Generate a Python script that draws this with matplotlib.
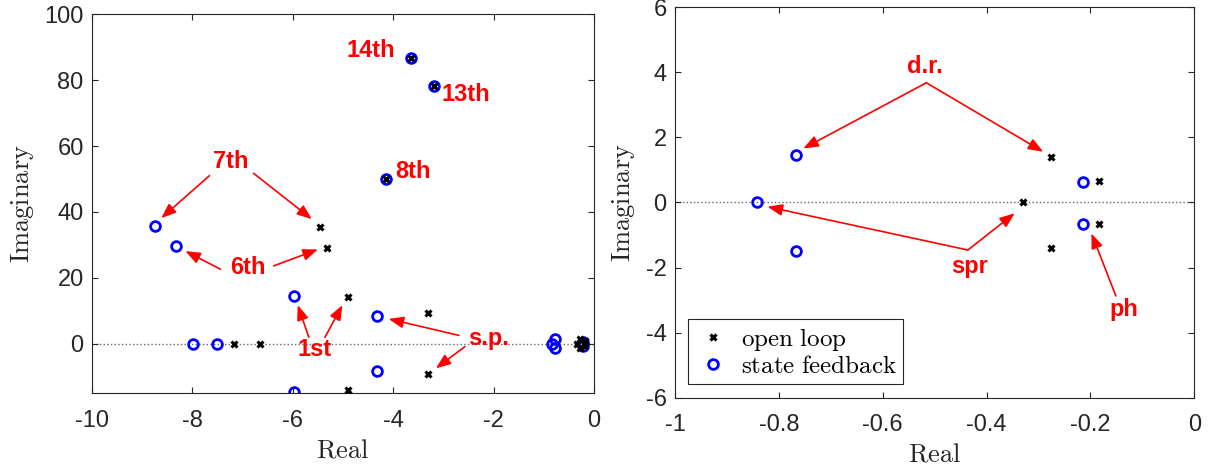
import matplotlib.pyplot as plt
import numpy as np

plt.rcParams["mathtext.fontset"] = "cm"
plt.rcParams["axes.unicode_minus"] = False

# eigenvalues
ol_real = [-3.65, -3.65, -3.19, -3.19, -4.15, -4.15, -5.45, -5.45, -5.32, -5.32,
           -4.90, -4.90, -3.30, -3.30, -7.17, -6.66,
           -0.275, -0.275, -0.33, -0.183, -0.183]
ol_imag = [86.6, -86.6, 78.2, -78.2, 49.9, -49.9, 35.4, -35.4, 29.0, -29.0,
           14.2, -14.2, 9.2, -9.3, 0.0, 0.0,
           1.40, -1.40, 0.0, 0.65, -0.66]
sf_real = [-3.65, -3.65, -3.19, -3.19, -4.15, -4.15, -8.74, -8.74, -8.32, -8.32,
           -5.97, -5.97, -4.32, -4.32, -7.99, -7.51,
           -0.767, -0.767, -0.843, -0.214, -0.214]
sf_imag = [86.6, -86.6, 78.2, -78.2, 49.9, -49.9, 35.8, -35.8, 29.7, -29.7,
           14.6, -14.6, 8.3, -8.3, 0.0, 0.0,
           1.47, -1.48, 0.0, 0.64, -0.65]

# mode labels: (text, x, y, [(tail_x, tail_y, head_x, head_y), ...])
left_labels = [
    ("14th", -4.45, 89.0, []),
    ("13th", -2.55, 75.5, []),
    ("8th", -3.60, 52.4, []),
    ("7th", -7.24, 55.3, [(-7.66, 51.0, -8.62, 38.1), (-6.78, 51.7, -5.62, 37.8)]),
    ("6th", -6.89, 23.1, [(-7.44, 22.6, -8.14, 28.1), (-6.38, 23.6, -5.50, 28.6)]),
    ("1st", -5.57, -1.9, [(-5.68, 1.9, -5.90, 11.7), (-5.36, 1.9, -5.01, 11.7)]),
    ("s.p.", -2.10, 1.6, [(-2.69, 2.5, -4.09, 7.5), (-2.57, -0.9, -3.15, -7.5)]),
]
right_labels = [
    ("d.r.", -0.518, 4.18, [(-0.516, 3.68, -0.753, 1.66), (-0.516, 3.68, -0.291, 1.56)]),
    ("spr", -0.432, -1.97, [(-0.436, -1.46, -0.822, -0.13), (-0.436, -1.46, -0.346, -0.33)]),
    ("ph", -0.135, -3.30, [(-0.151, -2.87, -0.198, -0.95)]),
]

left_xticks = [-10, -8, -6, -4, -2, 0]
left_yticks = [0, 20, 40, 60, 80, 100]
right_xticks = [-1, -0.8, -0.6, -0.4, -0.2, 0]
right_xticklabels = ["-1", "-0.8", "-0.6", "-0.4", "-0.2", "0"]
right_yticks = [-6, -4, -2, 0, 2, 4, 6]

axcol = "#262626"

fig = plt.figure(figsize=(12.1, 4.7), dpi=100)
ax1 = fig.add_axes([0.0760, 0.1638, 0.4149, 0.8058])
ax2 = fig.add_axes([0.5579, 0.1538, 0.4291, 0.8307])


def draw(ax, labels, xlim, ylim):
    ax.axhline(0, color="#666666", ls=":", lw=1.0, zorder=1)
    ax.plot(ol_real, ol_imag, "x", color="k", ms=4.5, mew=2.2, label="open loop", zorder=3)
    ax.plot(sf_real, sf_imag, "o", mfc="none", mec="#0000ff", ms=7, mew=2.0,
            label="state feedback", zorder=2)
    for txt, tx, ty, arrows in labels:
        ax.text(tx, ty, txt, color="red", fontsize=17, fontweight="bold",
                family="Liberation Sans", ha="center", va="center")
        for x0, y0, x1, y1 in arrows:
            ax.annotate("", xy=(x1, y1), xytext=(x0, y0),
                        arrowprops=dict(arrowstyle="-|>,head_length=0.9,head_width=0.35",
                                        color="red", lw=1.2, shrinkA=0, shrinkB=0))
    ax.set_xlim(xlim)
    ax.set_ylim(ylim)
    ax.set_xlabel(r"$\mathrm{Real}$", fontsize=19, color=axcol, labelpad=4)
    ax.set_ylabel(r"$\mathrm{Imaginary}$", fontsize=19, color=axcol, labelpad=6)
    ax.tick_params(direction="in", top=True, right=True, labelsize=17,
                   colors=axcol, length=4, width=0.8)
    ax.tick_params(axis="x", pad=12)
    ax.tick_params(axis="y", pad=6)
    for lab in ax.get_xticklabels() + ax.get_yticklabels():
        lab.set_family("Liberation Sans")
    for sp in ax.spines.values():
        sp.set_color(axcol)
        sp.set_linewidth(0.8)


ax1.set_xticks(left_xticks)
ax1.set_yticks(left_yticks)
draw(ax1, left_labels, (-10, 0), (-15, 100))

ax2.set_xticks(right_xticks)
ax2.set_xticklabels(right_xticklabels)
ax2.set_yticks(right_yticks)
draw(ax2, right_labels, (-1, 0), (-6, 6))

leg = ax2.legend(loc="lower left", bbox_to_anchor=(0.025, 0.035), borderaxespad=0,
                 prop={"size": 18}, fancybox=False, edgecolor=axcol, framealpha=1,
                 handlelength=1.5, handletextpad=0.35, borderpad=0.25, labelspacing=0.05)
leg.get_frame().set_linewidth(0.8)
for t in leg.get_texts():
    t.set_text(r"$\mathrm{" + t.get_text().replace(" ", r"\ ") + r"}\ \ \ $")

fig.savefig("out.png", dpi=100)
